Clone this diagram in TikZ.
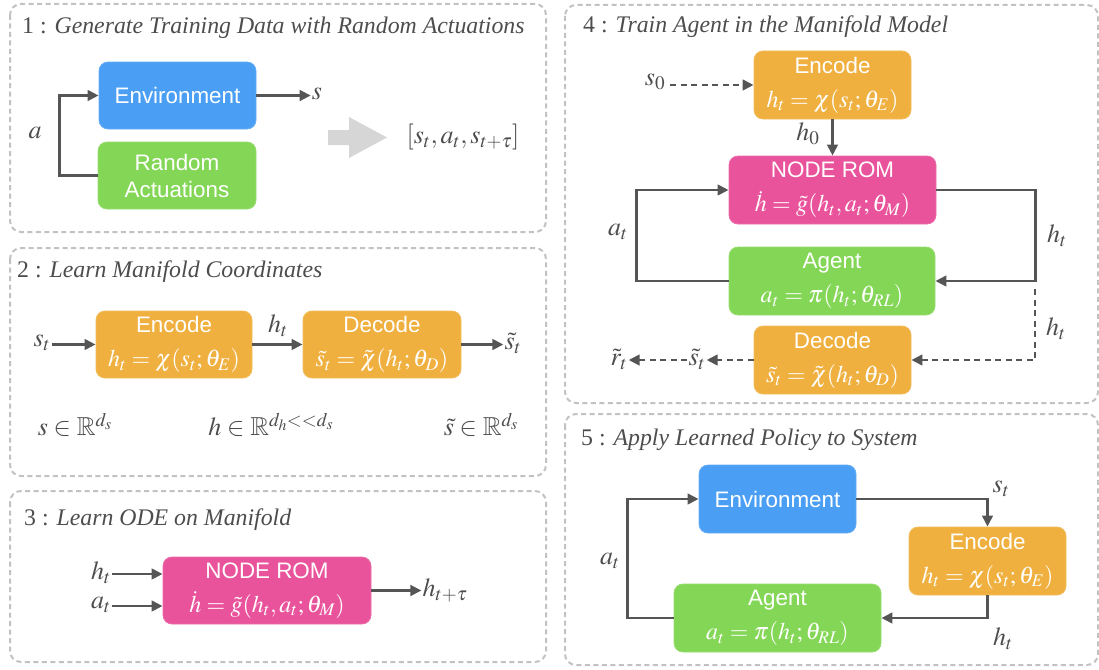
\documentclass[tikz,border=0pt]{standalone}
\usepackage{mathptmx}
\usepackage{amssymb}
\usepackage[no-math]{fontspec}
\setmainfont{Liberation Serif}
\setsansfont{Liberation Sans}
\usetikzlibrary{arrows.meta}
\definecolor{cblue}{HTML}{4A9FF5}
\definecolor{cgreen}{HTML}{84D756}
\definecolor{corange}{HTML}{F0B03F}
\definecolor{cpink}{HTML}{E9539B}
\definecolor{txtgray}{HTML}{4D4D4D}
\definecolor{linegray}{HTML}{555555}
\definecolor{bordergray}{HTML}{C2C2C2}
\definecolor{bigarrow}{HTML}{D6D6D6}
\newcommand\boxmath[1]{{\fontsize{24}{34}\selectfont$#1$}}
\tikzset{
  panel/.style={draw=bordergray, line width=2pt, dash pattern=on 5pt off 3.5pt, rounded corners=11pt},
  ttl/.style={text=txtgray, inner sep=0pt, font=\fontsize{23.8}{28}\selectfont},
  box/.style={rounded corners=9pt, text=white, align=center, inner sep=0pt, font=\fontsize{22.4}{34}\sffamily\selectfont},
  wh/.style 2 args={minimum width=#1pt, minimum height=#2pt},
  envbox/.style={box, fill=cblue, draw=cblue!85!white, line width=0.8pt},
  grnbox/.style={box, fill=cgreen, draw=cgreen!85!white, line width=0.8pt},
  orbox/.style={box, fill=corange, draw=corange!85!white, line width=0.8pt},
  pkbox/.style={box, fill=cpink, draw=cpink!85!white, line width=0.8pt},
  lab/.style={text=txtgray, inner sep=1pt, font=\fontsize{26}{30}\selectfont},
  arr/.style={draw=linegray, line width=2.8pt, -{Triangle[length=11pt,width=10.5pt]}},
  darr/.style={arr, dash pattern=on 6pt off 4.5pt},
  conn/.style={draw=linegray, line width=2.8pt}
}
\begin{document}
\begin{tikzpicture}[x=1pt,y=-1pt]
\useasboundingbox (0,0) rectangle (1099,669);
% panels
\draw[panel] (10,4) rectangle (546,232);
\draw[panel] (10,248) rectangle (546,476);
\draw[panel] (10,491) rectangle (546,662);
\draw[panel] (565,5) rectangle (1098,403);
\draw[panel] (565,414) rectangle (1098,665);
% titles
\node[ttl, anchor=base west] (t1) at (22,34) {1 : \textit{Generate Training Data with Random Actuations}};
\node[ttl, anchor=base west] (t2) at (17,277) {2 : \textit{Learn Manifold Coordinates}};
\node[ttl, anchor=base west] (t3) at (24,525) {3 : \textit{Learn ODE on Manifold}};
\node[ttl, anchor=base west] (t4) at (583,33) {4 : \textit{Train Agent in the Manifold Model}};
\node[ttl, anchor=base west] (t5) at (581,445) {5 : \textit{Apply Learned Policy to System}};

% ---------- panel 1
\node[envbox, wh={157}{67}] (env1) at (177.5,95.5) {Environment};
\node[grnbox, wh={158}{67}, font=\fontsize{22.4}{27}\sffamily\selectfont] (ra1) at (177,175.5) {Random\\Actuations};
\node[lab] (a1) at (35,133) {$a$};
\node[lab] (s1) at (317,94) {$s$};
\draw[arr] (ra1.west) -- ++(-38,0) |- (env1.west);
\draw[arr] (env1.east) -- (env1.east -| s1.west);
\fill[bigarrow] (328,130) -- (349,130) -- (349,117) -- (387,137.5) -- (349,158) -- (349,145) -- (328,145) -- cycle;
\node[lab] (data1) at (463,137) {$[s_t, a_t, s_{t+\tau}]$};

% ---------- panel 2
\node[orbox, wh={156}{67}] (enc2) at (174,344.5) {Encode\\\boxmath{h_t = \chi(s_t;\theta_E)}};
\node[orbox, wh={158}{67}] (dec2) at (382,344.5) {Decode\\\boxmath{\tilde{s}_t = \tilde{\chi}(h_t;\theta_D)}};
\node[lab] (st2) at (42,343) {$s_t$};
\node[lab] (ht2) at (278,326) {$h_t$};
\node[lab] (sto2) at (513,343) {$\tilde{s}_t$};
\draw[arr] (enc2.west -| st2.east) -- (enc2.west);
\draw[arr] (enc2.east) -- (dec2.west);
\draw[arr] (dec2.east) -- (dec2.east -| sto2.west);
\node[lab] (sp2) at (75,425) {$s \in \mathbb{R}^{d_s}$};
\node[lab] (hp2) at (271,425) {$h \in \mathbb{R}^{d_h<<d_s}$};
\node[lab] (stp2) at (481,425) {$\tilde{s} \in \mathbb{R}^{d_s}$};

% ---------- panel 3
\node[pkbox, wh={208}{67}] (rom3) at (267,590.5) {NODE ROM\\\boxmath{\dot{h} = \tilde{g}(h_t, a_t;\theta_M)}};
\node[lab] (ht3) at (101,573) {$h_t$};
\node[lab] (at3) at (101,605) {$a_t$};
\node[lab] (htt3) at (445,590) {$h_{t+\tau}$};
\draw[arr] (ht3.east |- 0,574) -- (rom3.west |- 0,574);
\draw[arr] (at3.east |- 0,606) -- (rom3.west |- 0,606);
\draw[arr] (rom3.east) -- (rom3.east -| htt3.west);

% ---------- panel 4
\node[orbox, wh={157}{68}] (enc4) at (832.5,85) {Encode\\\boxmath{h_t = \chi(s_t;\theta_E)}};
\node[pkbox, wh={207}{68}] (rom4) at (832.5,190) {NODE ROM\\\boxmath{\dot{h} = \tilde{g}(h_t, a_t;\theta_M)}};
\node[grnbox, wh={206}{68}] (agent4) at (832,281) {Agent\\\boxmath{a_t = \pi(h_t;\theta_{RL})}};
\node[orbox, wh={157}{68}] (dec4) at (832.5,360) {Decode\\\boxmath{\tilde{s}_t = \tilde{\chi}(h_t;\theta_D)}};
\node[lab] (s04) at (655,82) {$s_0$};
\node[lab] (h04) at (808,134) {$h_0$};
\node[lab] (at4) at (618,232) {$a_t$};
\node[lab] (ht4) at (1057,236) {$h_t$};
\node[lab] (htd4) at (1056,329) {$h_t$};
\node[lab] (st4) at (697,359) {$\tilde{s}_t$};
\node[lab] (rt4) at (619,359) {$\tilde{r}_t$};
\coordinate (c4) at (1035,289);
\draw[darr] (s04.east |- enc4.west) ++(4,0) -- (enc4.west);
\draw[arr] (enc4.south) -- (rom4.north);
\draw[arr] (agent4.west) -- ++(-92,0) |- (rom4.west);
\draw[arr] (rom4.east) -- ++(99,0) |- (agent4.east);
\draw[darr] (c4) |- (dec4.east);
\draw[darr] (dec4.west) -- (dec4.west -| st4.east);
\draw[darr] (st4.west |- dec4.west) -- (rt4.east |- dec4.west);

% ---------- panel 5
\node[envbox, wh={157}{68}] (env5) at (777.5,499) {Environment};
\node[orbox, wh={157}{68}] (enc5) at (987.5,561) {Encode\\\boxmath{h_t = \chi(s_t;\theta_E)}};
\node[grnbox, wh={207}{68}] (agent5) at (777.5,618) {Agent\\\boxmath{a_t = \pi(h_t;\theta_{RL})}};
\node[lab] (st5) at (1001,489) {$s_t$};
\node[lab] (ht5) at (1003,639) {$h_t$};
\node[lab] (at5) at (610,561) {$a_t$};
\draw[arr] (env5.east) -| (enc5.north);
\draw[arr] (enc5.south) |- (agent5.east);
\draw[arr] (agent5.west) -- ++(-46,0) |- (env5.west);
\end{tikzpicture}
\end{document}
